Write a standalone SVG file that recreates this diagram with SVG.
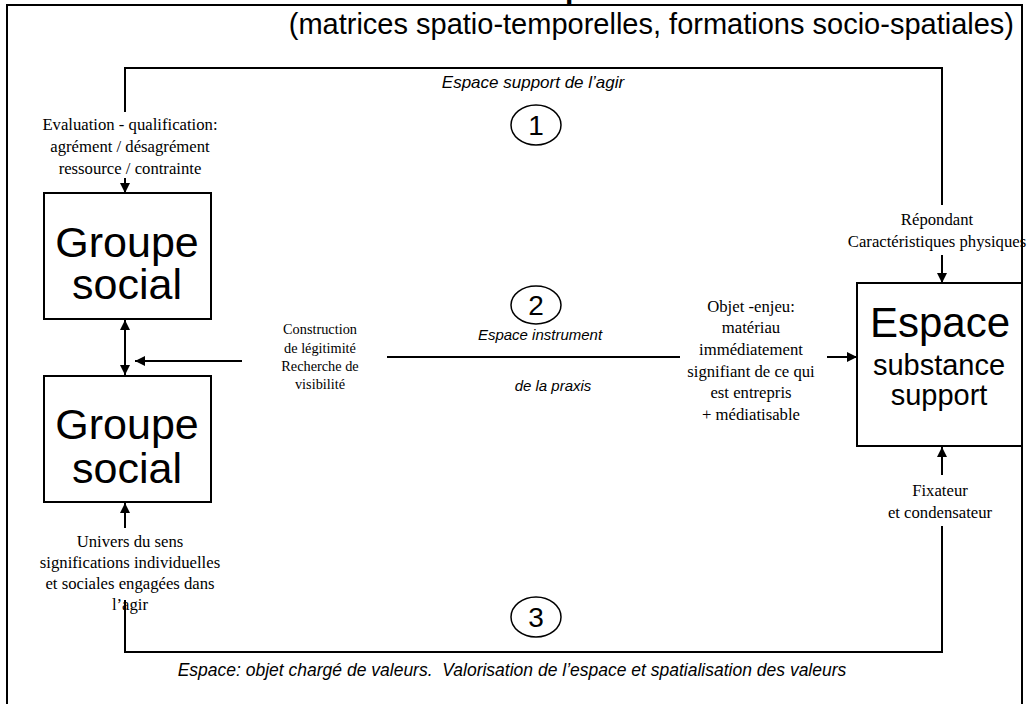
<svg xmlns="http://www.w3.org/2000/svg" width="1028" height="704" viewBox="0 0 1028 704">
<style>
.ln{fill:none;stroke:#000;stroke-width:2}
.box{fill:#fff;stroke:#000;stroke-width:2}
.circ{fill:#fff;stroke:#000;stroke-width:1.5}
.t{font-family:"Liberation Serif","Times New Roman",serif;font-size:16.7px;fill:#000;text-anchor:middle}
.i{font-family:"Liberation Sans",Arial,sans-serif;font-style:italic;fill:#000;text-anchor:middle}
.big{font-family:"Liberation Sans",Arial,sans-serif;font-size:43px;fill:#000;text-anchor:middle}
.mid{font-family:"Liberation Sans",Arial,sans-serif;font-size:29px;fill:#000;text-anchor:middle}
.num{font-family:"Liberation Sans",Arial,sans-serif;font-size:28px;fill:#000;text-anchor:middle}
.sub{font-family:"Liberation Sans",Arial,sans-serif;font-size:29px;fill:#000}
</style>
<defs>
<marker id="ah" viewBox="0 0 10 10" refX="10" refY="5" markerWidth="5" markerHeight="5" orient="auto-start-reverse" markerUnits="strokeWidth">
<path d="M0,0 L10,5 L0,10 z" fill="#000"/>
</marker>
</defs>
<rect width="1028" height="704" fill="#fff"/>
<g id="frame">
<text x="565" y="-1" font-family="Liberation Sans, Arial, sans-serif" font-weight="bold" font-size="30">p</text>
<rect x="7" y="5" width="1015" height="712" fill="none" stroke="#000" stroke-width="2"/>
<text x="1014" y="34" class="sub" text-anchor="end">(matrices spatio-temporelles, formations socio-spatiales)</text>
</g>
<g id="connectors">
<polyline class="ln" points="125,112 125,68 942,68 942,205"/>
<line class="ln" x1="125" y1="178" x2="125" y2="193" marker-end="url(#ah)"/>
<line class="ln" x1="942" y1="255" x2="942" y2="283" marker-end="url(#ah)"/>
<line class="ln" x1="125" y1="320" x2="125" y2="375" marker-start="url(#ah)" marker-end="url(#ah)"/>
<line class="ln" x1="242" y1="361" x2="135" y2="361" marker-end="url(#ah)"/>
<line class="ln" x1="387" y1="357" x2="680" y2="357"/>
<line class="ln" x1="827" y1="357" x2="857" y2="357" marker-end="url(#ah)"/>
<line class="ln" x1="942" y1="475" x2="942" y2="447" marker-end="url(#ah)"/>
<line class="ln" x1="125" y1="528" x2="125" y2="503" marker-end="url(#ah)"/>
<polyline class="ln" points="942,526 942,652 125,652 125,600"/>
</g>
<g id="label1">
<text x="533" y="88" class="i" style="font-size:17px">Espace support de l’agir</text>
<ellipse class="circ" cx="536" cy="125" rx="25" ry="20"/>
<text x="536" y="135" class="num">1</text>
</g>
<g id="label2">
<ellipse class="circ" cx="536" cy="305" rx="25" ry="19"/>
<text x="536" y="315" class="num">2</text>
<text x="540" y="340" class="i" style="font-size:15px">Espace instrument</text>
<text x="553" y="391" class="i" style="font-size:15px">de la praxis</text>
</g>
<g id="label3">
<ellipse class="circ" cx="536" cy="617" rx="25" ry="20"/>
<text x="536" y="627" class="num">3</text>
<text x="512" y="676" class="i" style="font-size:17.5px" xml:space="preserve">Espace: objet chargé de valeurs.  Valorisation de l’espace et spatialisation des valeurs</text>
</g>
<g id="groupe1">
<rect class="box" x="44" y="193" width="167" height="126"/>
<text x="127" y="257" class="big">Groupe</text>
<text x="127" y="299" class="big">social</text>
</g>
<g id="groupe2">
<rect class="box" x="44" y="376" width="167" height="126"/>
<text x="127" y="439" class="big">Groupe</text>
<text x="127" y="483" class="big">social</text>
</g>
<g id="espace">
<rect class="box" x="857" y="283" width="165" height="163"/>
<text x="940" y="337" class="big" style="font-size:42px">Espace</text>
<text x="939" y="375" class="mid">substance</text>
<text x="939" y="405" class="mid">support</text>
</g>
<g id="lab-eval">
<text x="130" y="130" class="t">Evaluation - qualification:</text>
<text x="130" y="152" class="t">agrément / désagrément</text>
<text x="130" y="174" class="t">ressource / contrainte</text>
</g>
<g id="lab-constr">
<text x="320" y="334" class="t" style="font-size:14.3px">Construction</text>
<text x="320" y="353" class="t" style="font-size:14.3px">de légitimité</text>
<text x="320" y="371" class="t" style="font-size:14.3px">Recherche de</text>
<text x="320" y="389" class="t" style="font-size:14.3px">visibilité</text>
</g>
<g id="lab-objet">
<text x="751" y="312" class="t">Objet -enjeu:</text>
<text x="751" y="333" class="t">matériau</text>
<text x="751" y="355" class="t">immédiatement</text>
<text x="751" y="377" class="t">signifiant de ce qui</text>
<text x="751" y="398" class="t">est entrepris</text>
<text x="751" y="420" class="t">+ médiatisable</text>
</g>
<g id="lab-rep">
<text x="937" y="225" class="t">Répondant</text>
<text x="937" y="247" class="t">Caractéristiques physiques</text>
</g>
<g id="lab-fix">
<text x="940" y="496" class="t">Fixateur</text>
<text x="940" y="518" class="t">et condensateur</text>
</g>
<g id="lab-univ">
<text x="130" y="547" class="t">Univers du sens</text>
<text x="130" y="568" class="t">significations individuelles</text>
<text x="130" y="589" class="t">et sociales engagées dans</text>
<text x="130" y="610" class="t">l’agir</text>
</g>
</svg>
